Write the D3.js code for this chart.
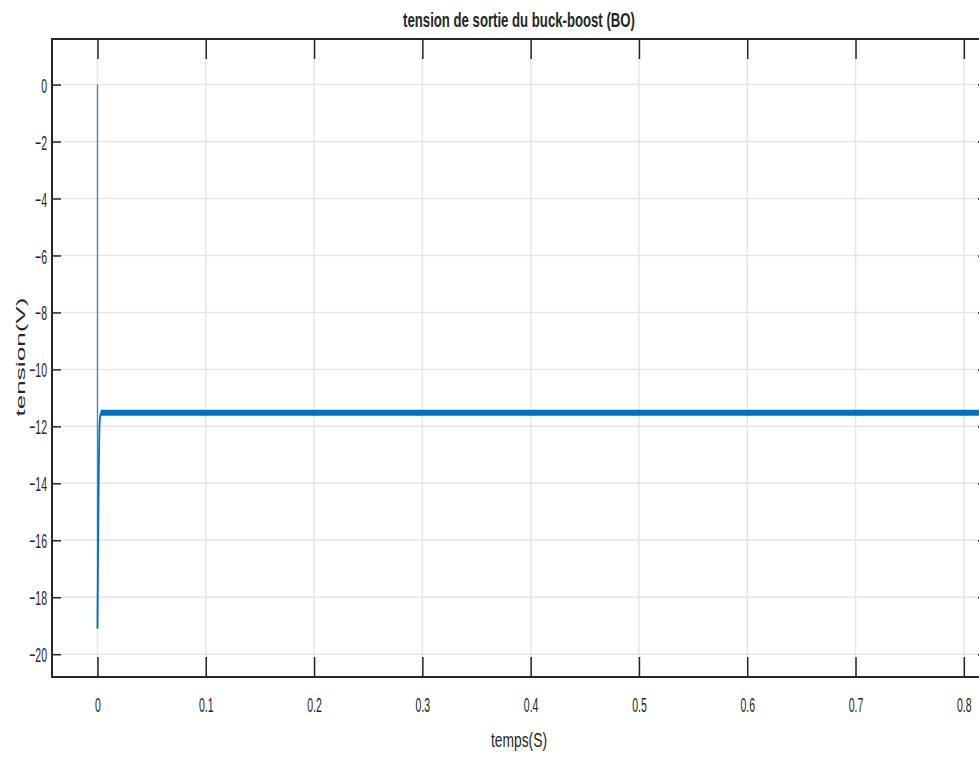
<!DOCTYPE html>
<html>
<head>
<meta charset="utf-8">
<script src="https://cdn.jsdelivr.net/npm/d3@7/dist/d3.min.js"></script>
<style>
  html, body { margin: 0; padding: 0; background: #ffffff; }
  svg { display: block; }
  text { font-family: "Liberation Sans", Arial, Helvetica, sans-serif; fill: #262626; }
</style>
</head>
<body>
<svg id="chart" width="979" height="758"></svg>
<script>
// ---- data ----
const title = "tension de sortie du buck-boost (BO)";
const xLabel = "temps(S)";
const yLabel = "tension(V)";
const xTicks = [0, 0.1, 0.2, 0.3, 0.4, 0.5, 0.6, 0.7, 0.8];
const yTicks = [0, -2, -4, -6, -8, -10, -12, -14, -16, -18, -20];
const xDomain = [-0.042, 0.8214];
const yDomain = [-20.8, 1.6];
// initial drop at t = 0
const dropTime = [0, 0];
const dropVolt = [0, -19.1];
// recovery transient
const transTime = [0, 0.0004, 0.0008, 0.0012, 0.0016, 0.002, 0.0025, 0.003, 0.004];
const transVolt = [-19.1, -17.0, -15.4, -13.6, -12.5, -11.9, -11.65, -11.55, -11.52];
// steady state with switching ripple (envelope)
const rippleTime = [0.003, 0.83];
const rippleHigh = [-11.42, -11.42];
const rippleLow = [-11.63, -11.63];

// ---- layout ----
const svg = d3.select("#chart");
const L = 52, T = 39, R = 987, B = 677;
const x = d3.scaleLinear().domain(xDomain).range([L, R]);
const y = d3.scaleLinear().domain(yDomain).range([B, T]);
const dark = "#262626";
const blue = "#0072bd";
const SX = 0.5;

// grid
const grid = svg.append("g");
grid.selectAll(".gx").data(xTicks).enter().append("line")
  .attr("x1", d => x(d)).attr("x2", d => x(d)).attr("y1", T).attr("y2", B)
  .attr("stroke", "#e6e6e6").attr("stroke-width", 1.5);
grid.selectAll(".gy").data(yTicks).enter().append("line")
  .attr("x1", L).attr("x2", R).attr("y1", d => y(d)).attr("y2", d => y(d))
  .attr("stroke", "#e6e6e6").attr("stroke-width", 1.5);

// data
const plot = svg.append("g");
plot.append("path")
  .datum(dropTime.map((t, i) => [t, dropVolt[i]]))
  .attr("d", d3.line().x(d => x(d[0])).y(d => y(d[1])))
  .attr("fill", "none").attr("stroke", "#3d86c4").attr("stroke-width", 1.3);
plot.append("path")
  .datum(transTime.map((t, i) => [t, transVolt[i]]))
  .attr("d", d3.line().x(d => x(d[0])).y(d => y(d[1])).curve(d3.curveMonotoneX))
  .attr("fill", "none").attr("stroke", blue).attr("stroke-width", 1.8);
plot.append("path")
  .datum(rippleTime.map((t, i) => [t, rippleHigh[i], rippleLow[i]]))
  .attr("d", d3.area().x(d => x(d[0])).y0(d => y(d[2])).y1(d => y(d[1])))
  .attr("fill", blue);

// axes
function styleAxis(g) {
  g.select(".domain").remove();
  g.selectAll(".tick line").attr("stroke", dark).attr("stroke-width", 1.5);
}
const axB = svg.append("g").attr("transform", `translate(0,${B})`)
  .call(d3.axisBottom(x).tickValues(xTicks).tickSize(-20).tickFormat(d3.format("")));
styleAxis(axB);
axB.selectAll(".tick text")
  .attr("y", 0).attr("dy", null)
  .attr("transform", `translate(0,35) scale(${SX},1)`)
  .attr("font-size", 21).attr("fill", dark).attr("text-anchor", "middle");

const axT = svg.append("g").attr("transform", `translate(0,${T})`)
  .call(d3.axisTop(x).tickValues(xTicks).tickSize(-20).tickFormat(""));
styleAxis(axT);

const axL = svg.append("g").attr("transform", `translate(${L},0)`)
  .call(d3.axisLeft(y).tickValues(yTicks).tickSize(-9).tickFormat(d3.format("")));
styleAxis(axL);
axL.selectAll(".tick text")
  .attr("x", 0).attr("dy", "0.36em")
  .attr("transform", `translate(-5,0) scale(${SX},1)`)
  .attr("font-size", 21).attr("fill", dark).attr("text-anchor", "end");

const axR = svg.append("g").attr("transform", `translate(${R},0)`)
  .call(d3.axisRight(y).tickValues(yTicks).tickSize(-9).tickFormat(""));
styleAxis(axR);

// frame
svg.append("rect").attr("x", L).attr("y", T).attr("width", R - L).attr("height", B - T)
  .attr("fill", "none").attr("stroke", dark).attr("stroke-width", 2);

// fitted text helper
function fitText(txt, cx, cy, size, weight, target, rot) {
  const t = svg.append("text").text(txt).attr("font-size", size)
    .attr("font-weight", weight).attr("text-anchor", "middle").attr("fill", dark);
  const w = t.node().getComputedTextLength();
  const s = target / w;
  t.attr("transform", `translate(${cx},${cy})${rot ? " rotate(" + rot + ")" : ""} scale(${s},1)`);
  return t;
}
fitText(title, 519, 27, 20, "bold", 232, 0);
fitText(xLabel, 519, 747, 20, "normal", 56, 0);
fitText(yLabel, 25, 357, 13, "normal", 119, -90);
</script>
</body>
</html>
